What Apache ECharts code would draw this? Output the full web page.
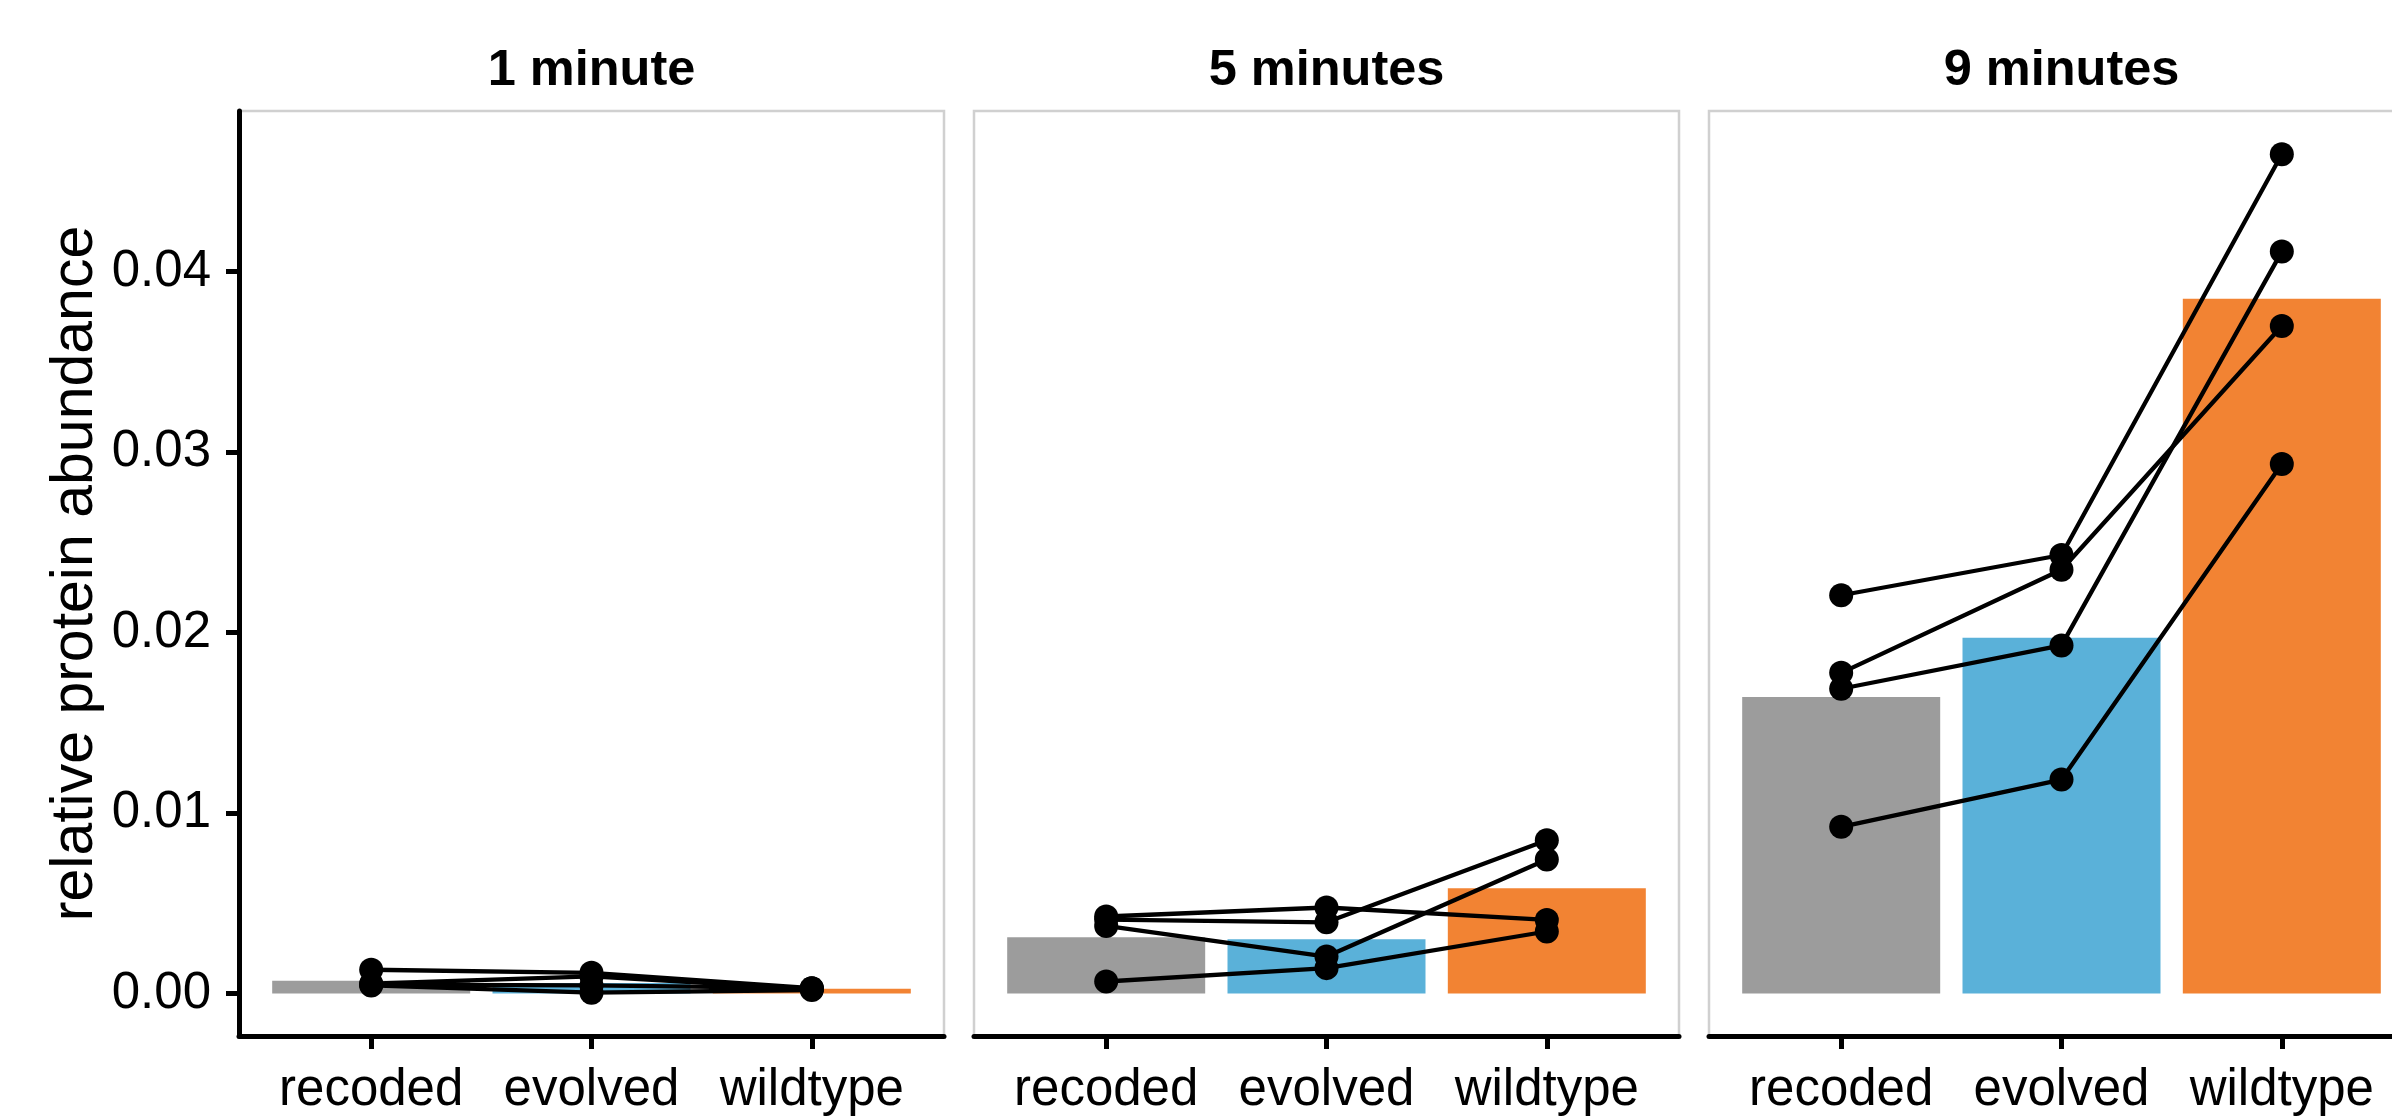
<!DOCTYPE html>
<html>
<head>
<meta charset="utf-8">
<script src="https://cdn.jsdelivr.net/npm/echarts@6/dist/echarts.min.js"></script>
<style>
html,body{margin:0;padding:0;background:#fff;overflow:hidden;}
#chart{width:2430px;height:1116px;}
</style>
</head>
<body>
<div id="chart"></div>
<script>
// ---- data ----
const categories = ['recoded', 'evolved', 'wildtype'];
const panelTitles = ['1 minute', '5 minutes', '9 minutes'];
const yTickValues = [0, 0.01, 0.02, 0.03, 0.04];
const yAxisTitle = 'relative protein abundance';

// bar heights (per panel, per category)
const bars1min = [0.00071, 0.00058, 0.00027];
const bars5min = [0.00312, 0.00301, 0.00583];
const bars9min = [0.01643, 0.01971, 0.0385];

// replicate lines (each: recoded, evolved, wildtype)
const reps1min = [
  [0.00132, 0.00115, 0.00030],
  [0.00055, 0.00095, 0.00025],
  [0.00050, 0.00045, 0.00030],
  [0.00045, 0.00005, 0.00020]
];
const reps5min = [
  [0.00427, 0.00477, 0.00408],
  [0.00410, 0.00395, 0.00850],
  [0.00375, 0.00205, 0.00743],
  [0.00067, 0.00141, 0.00344]
];
const reps9min = [
  [0.02207, 0.02430, 0.04650],
  [0.01777, 0.02348, 0.03699],
  [0.01689, 0.01929, 0.04111],
  [0.00924, 0.01186, 0.02934]
];

const barColors = ['#9c9c9c', '#5ab1d9', '#f28333'];

// ---- layout ----
const FONT = "'Liberation Sans', Arial, Helvetica, sans-serif";
const gridLefts = [239, 974, 1709];
const gridWidth = 705;
const gridTop = 111;
const gridHeight = 927;
const yMin = -0.00235, yMax = 0.0489;

const allBars = [bars1min, bars5min, bars9min];
const allReps = [reps1min, reps5min, reps9min];

const chart = echarts.init(document.getElementById('chart'));

const grids = [], xAxes = [], yAxes = [], titles = [], series = [];
for (let i = 0; i < 3; i++) {
  grids.push({
    left: gridLefts[i], top: gridTop, width: gridWidth, height: gridHeight,
    show: true, borderColor: '#d0d0d0', borderWidth: 2.5, backgroundColor: 'transparent',
    containLabel: false
  });
  titles.push({
    text: panelTitles[i], left: gridLefts[i] + gridWidth / 2, top: 46, textAlign: 'center', padding: 0,
    textStyle: { fontFamily: FONT, fontSize: 50.5, fontWeight: 'bold', color: '#000' }
  });
  xAxes.push({
    type: 'value', gridIndex: i, min: 0.4, max: 3.6,
    axisLine: { show: true, onZero: false, lineStyle: { color: '#000', width: 5 } },
    axisTick: { show: true, length: 13, lineStyle: { color: '#000', width: 5 }, customValues: [1, 2, 3] },
    axisLabel: {
      show: true, margin: 29, color: '#000', fontFamily: FONT, fontSize: 51,
      customValues: [1, 2, 3],
      formatter: v => categories[Math.round(v) - 1] || ''
    },
    splitLine: { show: false }
  });
  yAxes.push({
    type: 'value', gridIndex: i, min: yMin, max: yMax,
    name: i === 0 ? yAxisTitle : '',
    nameLocation: 'middle', nameGap: 134,
    nameTextStyle: { fontFamily: FONT, fontSize: 59, color: '#000' },
    axisLine: { show: i === 0, onZero: false, lineStyle: { color: '#000', width: 5 } },
    axisTick: { show: i === 0, length: 13, lineStyle: { color: '#000', width: 5 }, customValues: yTickValues },
    axisLabel: {
      show: i === 0, margin: 28, color: '#000', fontFamily: FONT, fontSize: 51,
      customValues: yTickValues,
      formatter: v => v.toFixed(2)
    },
    splitLine: { show: false }
  });
  series.push({
    type: 'bar', xAxisIndex: i, yAxisIndex: i, barWidth: 198, z: 1,
    data: categories.map((c, j) => ({ value: [j + 1, allBars[i][j]], itemStyle: { color: barColors[j] } }))
  });
  allReps[i].forEach(rep => {
    series.push({
      type: 'line', xAxisIndex: i, yAxisIndex: i, z: 3,
      symbol: 'circle', symbolSize: 24,
      itemStyle: { color: '#000' },
      lineStyle: { color: '#000', width: 4.3 },
      data: rep.map((v, j) => [j + 1, v])
    });
  });
}

chart.setOption({
  animation: false,
  backgroundColor: '#fff',
  title: titles,
  grid: grids,
  xAxis: xAxes,
  yAxis: yAxes,
  series: series
});
</script>
</body>
</html>
